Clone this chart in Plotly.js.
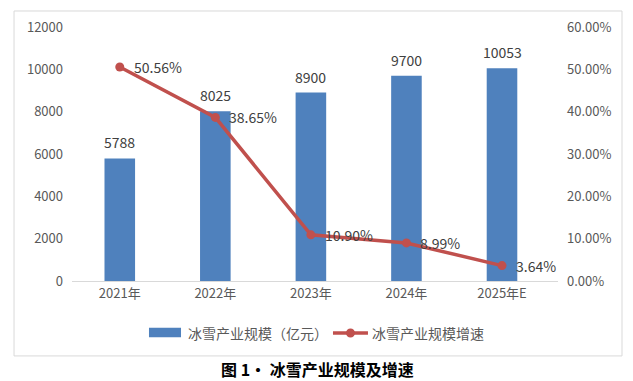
<!DOCTYPE html>
<html>
<head>
<meta charset="utf-8">
<script src="https://cdn.plot.ly/plotly-3.0.1.min.js"></script>
<style>html,body{margin:0;padding:0;background:#fff;}#chart{width:633px;height:381px;}</style>
</head>
<body>
<div id="chart"></div>
<script>
var categories = ['2021年', '2022年', '2023年', '2024年', '2025年E'];
var scaleValues = [5788, 8025, 8900, 9700, 10053];
var growthValues = [0.5056, 0.3865, 0.1090, 0.0899, 0.0364];
var scaleName = '冰雪产业规模（亿元）';
var growthName = '冰雪产业规模增速';
var figTitle = '图 1· 冰雪产业规模及增速';

var FONT = '"Noto Sans CJK SC", "Noto Sans", sans-serif';
var BAR_C = '#4F81BD', LINE_C = '#C0504D';
var annotations = [];
categories.forEach(function (c, i) {
  annotations.push({x: c, y: scaleValues[i], xref: 'x', yref: 'y', text: String(scaleValues[i]),
    showarrow: false, yanchor: 'bottom', yshift: 4, font: {family: FONT, size: 14, color: '#404040'}});
  annotations.push({x: c, y: growthValues[i], xref: 'x', yref: 'y2', text: (growthValues[i] * 100).toFixed(2) + '%',
    showarrow: false, xanchor: 'left', yanchor: 'middle', xshift: 12, font: {family: FONT, size: 14, color: '#404040'}});
});
// title below the chart frame
annotations.push({x: 0.506, y: -0.345, xref: 'paper', yref: 'paper', text: '<b>' + figTitle + '</b>',
  showarrow: false, xanchor: 'center', yanchor: 'middle', font: {family: FONT, size: 16, color: '#000'}});
// custom legend texts
annotations.push({x: 0.2346, y: -0.2047, xref: 'paper', yref: 'paper', text: scaleName, showarrow: false,
  xanchor: 'left', yanchor: 'middle', font: {family: FONT, size: 14, color: '#595959'}});
annotations.push({x: 0.613, y: -0.2047, xref: 'paper', yref: 'paper', text: growthName, showarrow: false,
  xanchor: 'left', yanchor: 'middle', font: {family: FONT, size: 14, color: '#595959'}});

var traces = [
  {type: 'bar', x: categories, y: scaleValues, name: scaleName, marker: {color: BAR_C}, yaxis: 'y', cliponaxis: false},
  {type: 'scatter', mode: 'lines+markers', x: categories, y: growthValues, name: growthName, yaxis: 'y2',
    line: {color: LINE_C, width: 3.5}, marker: {color: LINE_C, size: 9}, cliponaxis: false}
];

var layout = {
  width: 633, height: 381,
  margin: {l: 72, r: 75, t: 27, b: 100, autoexpand: false},
  paper_bgcolor: '#fff', plot_bgcolor: '#fff',
  bargap: 0.68,
  showlegend: false,
  xaxis: {type: 'category', automargin: false, showgrid: false, showline: true, linecolor: '#D9D9D9', linewidth: 1,
    ticks: '', tickfont: {family: FONT, size: 13, color: '#595959'}, fixedrange: true},
  yaxis: {range: [0, 12000], dtick: 2000, tickformat: 'd', automargin: false, showgrid: false, zeroline: false, showline: false, ticks: '',
    ticklabelstandoff: 8, tickfont: {family: FONT, size: 13, color: '#595959'}},
  yaxis2: {range: [0, 0.6], dtick: 0.1, tickformat: '.2%', overlaying: 'y', side: 'right', automargin: false, showgrid: false,
    zeroline: false, showline: false, ticks: '', ticklabelstandoff: 8, tickfont: {family: FONT, size: 13, color: '#595959'}},
  shapes: [
    {type: 'rect', xref: 'paper', yref: 'paper', x0: -0.1193, x1: 1.1317, y0: -0.295, y1: 1.063,
      line: {color: '#D9D9D9', width: 1}, fillcolor: 'rgba(0,0,0,0)', layer: 'below'},
    {type: 'rect', xref: 'paper', yref: 'paper', x0: 0.1584, x1: 0.2243, y0: -0.2217, y1: -0.1839,
      line: {width: 0}, fillcolor: BAR_C},
    {type: 'line', xref: 'paper', yref: 'paper', x0: 0.537, x1: 0.609, y0: -0.2047, y1: -0.2047,
      line: {color: LINE_C, width: 3.5}},
    {type: 'circle', xref: 'paper', yref: 'paper', x0: 0.573 - 0.0093, x1: 0.573 + 0.0093,
      y0: -0.2047 - 0.0177, y1: -0.2047 + 0.0177, line: {width: 0}, fillcolor: LINE_C}
  ],
  annotations: annotations
};
Plotly.newPlot('chart', traces, layout, {staticPlot: true, displayModeBar: false});
</script>
</body>
</html>
